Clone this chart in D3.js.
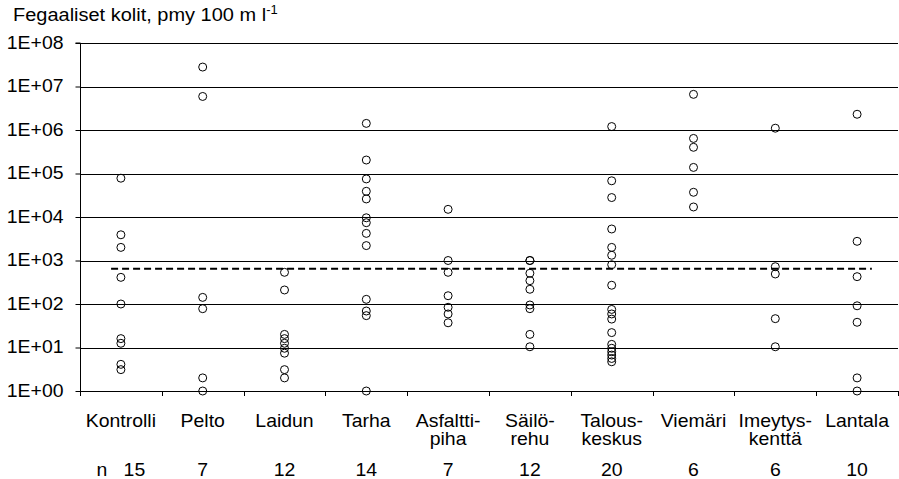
<!DOCTYPE html>
<html>
<head>
<meta charset="utf-8">
<script src="https://cdn.jsdelivr.net/npm/d3@7"></script>
<style>
  body { margin: 0; background: #fff; }
  svg text { font-family: "Liberation Sans", Arial, sans-serif; fill: #000; }
</style>
</head>
<body>
<svg id="chart" width="899" height="479"></svg>
<script>
const categories = ['Kontrolli', 'Pelto', 'Laidun', 'Tarha', 'Asfalttipiha', 'Säilörehu', 'Talouskeskus', 'Viemäri', 'Imeytyskenttä', 'Lantala'];
const categoryLines = [['Kontrolli'], ['Pelto'], ['Laidun'], ['Tarha'], ['Asfaltti-', 'piha'], ['Säilö-', 'rehu'], ['Talous-', 'keskus'], ['Viemäri'], ['Imeytys-', 'kenttä'], ['Lantala']];
const nLabels = ['n   15', '7', '12', '14', '7', '12', '20', '6', '6', '10'];

// fecal coliforms per 100 ml, one list per site type
const kontrolli = [78000, 3900, 2000, 410, 100, 16, 12.5, 4.1, 3.1];
const pelto = [28000000, 5900000, 142, 78, 2, 1];
const laidun = [535, 210, 20, 16, 12.5, 9.6, 7.4, 3.1, 2];
const tarha = [1420000, 204000, 75000, 39000, 26000, 9600, 7400, 4200, 2200, 128, 69, 54, 1];
const asfalttipiha = [15000, 1000, 535, 155, 84, 59, 37];
const sailorehu = [1000, 1000, 510, 344, 218, 95, 78, 20, 10.4];
const talouskeskus = [1200000, 68000, 28000, 5300, 2000, 1320, 800, 270, 75, 59, 45, 22, 11.8, 9.6, 8, 6.7, 5.6, 4.7];
const viemari = [6600000, 640000, 400000, 138000, 37000, 17000];
const imeytyskentta = [1100000, 720, 490, 46, 10.4];
const lantala = [2300000, 2760, 425, 91, 38, 2, 1];
const seriesValues = [kontrolli, pelto, laidun, tarha, asfalttipiha, sailorehu, talouskeskus, viemari, imeytyskentta, lantala];

const limitValue = 650;
const yTickValues = [1, 10, 100, 1e3, 1e4, 1e5, 1e6, 1e7, 1e8];
const yTickLabels = ['1E+00', '1E+01', '1E+02', '1E+03', '1E+04', '1E+05', '1E+06', '1E+07', '1E+08'];

const svg = d3.select('#chart');
const plotLeft = 80, plotRight = 898, plotTop = 43, plotBottom = 391;
const sx = 1.08; // the original text is a little wider than plain Arial

const x = d3.scaleBand().domain(categories).range([plotLeft, plotRight]).padding(0);
const y = d3.scaleLog().domain([1, 1e8]).range([plotBottom, plotTop]);
const cx = d => x(d) + x.bandwidth() / 2;

// title
const title = svg.append('text')
  .attr('transform', `translate(13,21) scale(${sx},1)`)
  .style('font-size', '18.5px');
title.append('tspan').text('Fegaaliset kolit, pmy 100 m l');
title.append('tspan').attr('dy', -7).style('font-size', '12px').text('-1');

// gridlines
svg.append('g').selectAll('line')
  .data(yTickValues)
  .enter().append('line')
  .attr('x1', plotLeft).attr('x2', plotRight)
  .attr('y1', d => Math.round(y(d)) + 0.5).attr('y2', d => Math.round(y(d)) + 0.5)
  .attr('stroke', '#000').attr('stroke-width', 1);

// y axis
const yAxis = svg.append('g')
  .attr('transform', `translate(${plotLeft + 0.5},0)`)
  .call(d3.axisLeft(y).tickValues(yTickValues).tickFormat('').tickSize(5));
yAxis.select('.domain').attr('d', `M-5,${plotTop}H0V${plotBottom}`).attr('stroke', '#000');
yAxis.selectAll('.tick line').attr('stroke', '#000');

svg.append('g').selectAll('text')
  .data(yTickValues)
  .enter().append('text')
  .attr('text-anchor', 'end')
  .attr('transform', d => `translate(${plotLeft - 16.5},${y(d) + 5.5}) scale(${sx},1)`)
  .style('font-size', '18px')
  .text((d, i) => yTickLabels[i]);

// x axis ticks at category boundaries
const bounds = d3.range(categories.length + 1).map(i => x.range()[0] + i * x.step());
svg.append('g').selectAll('line')
  .data(bounds)
  .enter().append('line')
  .attr('x1', d => Math.round(d) + 0.5).attr('x2', d => Math.round(d) + 0.5)
  .attr('y1', plotBottom).attr('y2', plotBottom + 5)
  .attr('stroke', '#000');

// category labels
const labels = svg.append('g').selectAll('text')
  .data(categories)
  .enter().append('text')
  .attr('text-anchor', 'middle')
  .attr('transform', d => `translate(${cx(d)},426.5) scale(${sx},1)`)
  .style('font-size', '18px');
labels.each(function(d, i) {
  const t = d3.select(this);
  categoryLines[i].forEach((line, j) => {
    t.append('tspan').attr('x', 0).attr('y', j * 18.5).text(line);
  });
});

// n row
svg.append('g').selectAll('text')
  .data(categories)
  .enter().append('text')
  .attr('text-anchor', 'middle')
  .style('white-space', 'pre')
  .attr('transform', d => `translate(${cx(d)},475.5) scale(${sx},1)`)
  .style('font-size', '18px')
  .text((d, i) => nLabels[i]);

// dashed guide level
svg.append('line')
  .attr('x1', x(categories[0]) + x.bandwidth() * 0.38)
  .attr('x2', x(categories[categories.length - 1]) + x.bandwidth() * 0.68)
  .attr('y1', y(limitValue)).attr('y2', y(limitValue))
  .attr('stroke', '#000').attr('stroke-width', 2).attr('stroke-dasharray', '7,4');

// points
const points = [];
seriesValues.forEach((vals, i) => vals.forEach(v => points.push({ cat: categories[i], value: v })));
svg.append('g').selectAll('circle')
  .data(points)
  .enter().append('circle')
  .attr('cx', d => cx(d.cat))
  .attr('cy', d => y(d.value))
  .attr('r', 4)
  .attr('fill', 'none')
  .attr('stroke', '#000')
  .attr('stroke-width', 1);
</script>
</body>
</html>
